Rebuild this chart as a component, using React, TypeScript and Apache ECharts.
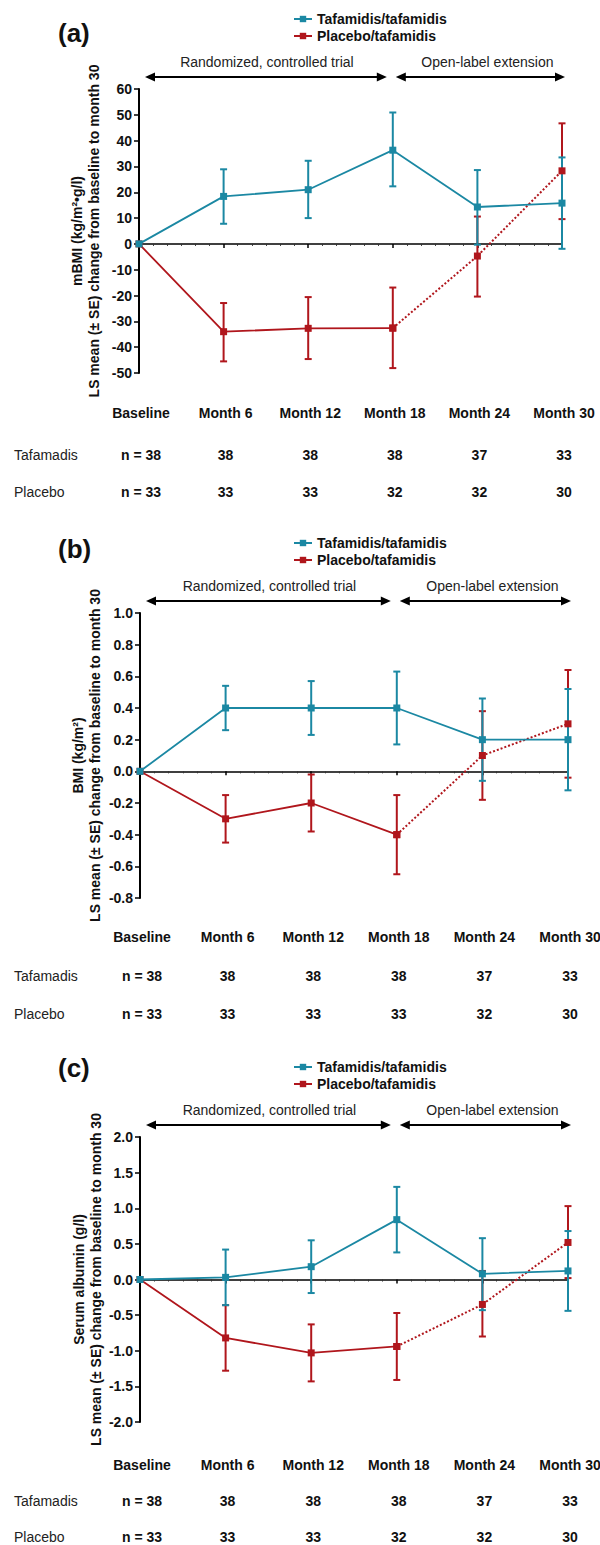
import React, { useEffect, useRef } from "react";
import * as echarts from "echarts";

// ---------- data ----------
const months = [0, 6, 12, 18, 24, 30];
const categories = ["Baseline", "Month 6", "Month 12", "Month 18", "Month 24", "Month 30"];
const TAF = "Tafamidis/tafamidis";
const PLA = "Placebo/tafamidis";
const panelTags = ["(a)", "(b)", "(c)"];
const periodLabels = ["Randomized, controlled trial", "Open-label extension"];
const rowLabels = ["Tafamadis", "Placebo"];

// (a) mBMI
const mbmiTafMean = [0, 18.4, 21.0, 36.3, 14.3, 15.8];
const mbmiTafLow = [0, 7.8, 10.0, 22.3, -0.3, -1.9];
const mbmiTafHigh = [0, 28.9, 32.2, 50.9, 28.6, 33.5];
const mbmiPlaMean = [0, -34.0, -32.7, -32.6, -4.7, 28.3];
const mbmiPlaLow = [0, -45.5, -44.6, -48.1, -20.4, 9.6];
const mbmiPlaHigh = [0, -22.9, -20.6, -16.9, 10.6, 46.7];
const mbmiNTaf = [38, 38, 38, 38, 37, 33];
const mbmiNPla = [33, 33, 33, 32, 32, 30];

// (b) BMI
const bmiTafMean = [0, 0.4, 0.4, 0.4, 0.2, 0.2];
const bmiTafLow = [0, 0.26, 0.23, 0.17, -0.06, -0.12];
const bmiTafHigh = [0, 0.54, 0.57, 0.63, 0.46, 0.52];
const bmiPlaMean = [0, -0.3, -0.2, -0.4, 0.1, 0.3];
const bmiPlaLow = [0, -0.45, -0.38, -0.65, -0.18, -0.04];
const bmiPlaHigh = [0, -0.15, -0.02, -0.15, 0.38, 0.64];
const bmiNTaf = [38, 38, 38, 38, 37, 33];
const bmiNPla = [33, 33, 33, 33, 32, 30];

// (c) Serum albumin
const albTafMean = [0, 0.03, 0.18, 0.84, 0.08, 0.12];
const albTafLow = [0, -0.36, -0.19, 0.38, -0.43, -0.44];
const albTafHigh = [0, 0.42, 0.55, 1.3, 0.58, 0.68];
const albPlaMean = [0, -0.82, -1.03, -0.94, -0.35, 0.52];
const albPlaLow = [0, -1.28, -1.43, -1.41, -0.8, 0.02];
const albPlaHigh = [0, -0.36, -0.63, -0.47, 0.12, 1.03];
const albNTaf = [38, 38, 38, 38, 37, 33];
const albNPla = [33, 33, 33, 32, 32, 30];

const yTitles = [
  "mBMI (kg/m²•g/l)\nLS mean (± SE) change from baseline to month 30",
  "BMI (kg/m²)\nLS mean (± SE) change from baseline to month 30",
  "Serum albumin (g/l)\nLS mean (± SE) change from baseline to month 30",
];
const yMin = [-50, -0.8, -2];
const yMax = [60, 1.0, 2];
const yInterval = [10, 0.2, 0.5];
const yDecimals = [0, 1, 1];

// ---------- styling / layout ----------
const TEAL = "#1b88a3";
const RED = "#b0161c";
const FONT = "'Liberation Sans', Arial, sans-serif";

const layout = [
  { left: 139, top: 89, width: 423, height: 284, tagY: 33, headerY: 413, rowY: [455, 492], titleX: 85 },
  { left: 140, top: 613, width: 428, height: 285, tagY: 549, headerY: 937, rowY: [976, 1014], titleX: 86 },
  { left: 140, top: 1137, width: 428, height: 285, tagY: 1068, headerY: 1465, rowY: [1501, 1537], titleX: 87 },
];

const panels = [
  { tm: mbmiTafMean, tl: mbmiTafLow, th: mbmiTafHigh, pm: mbmiPlaMean, pl: mbmiPlaLow, ph: mbmiPlaHigh, nt: mbmiNTaf, np: mbmiNPla },
  { tm: bmiTafMean, tl: bmiTafLow, th: bmiTafHigh, pm: bmiPlaMean, pl: bmiPlaLow, ph: bmiPlaHigh, nt: bmiNTaf, np: bmiNPla },
  { tm: albTafMean, tl: albTafLow, th: albTafHigh, pm: albPlaMean, pl: albPlaLow, ph: albPlaHigh, nt: albNTaf, np: albNPla },
];

function errRender(color: string) {
  return (params: any, api: any) => {
    const x = api.value(0);
    const lo = api.coord([x, api.value(1)]);
    const hi = api.coord([x, api.value(2)]);
    const hw = 3.5;
    const style = { stroke: color, lineWidth: 2 };
    return {
      type: "group",
      children: [
        { type: "line", shape: { x1: lo[0], y1: lo[1], x2: hi[0], y2: hi[1] }, style },
        { type: "line", shape: { x1: lo[0] - hw, y1: lo[1], x2: lo[0] + hw, y2: lo[1] }, style },
        { type: "line", shape: { x1: hi[0] - hw, y1: hi[1], x2: hi[0] + hw, y2: hi[1] }, style },
      ],
    };
  };
}

function txt(text: string, x: number, y: number, opts: any = {}) {
  return {
    type: "text",
    x,
    y,
    z: 10,
    style: {
      text,
      fontFamily: FONT,
      fontSize: 14,
      fontWeight: "bold",
      fill: "#111",
      align: "center",
      verticalAlign: "middle",
      ...opts,
    },
  };
}

function arrow(x1: number, x2: number, y: number) {
  const head = 10;
  const hh = 4.5;
  return [
    { type: "line", shape: { x1: x1 + 4, y1: y, x2: x2 - 4, y2: y }, style: { stroke: "#000", lineWidth: 2 } },
    { type: "polygon", shape: { points: [[x1, y], [x1 + head, y - hh], [x1 + head, y + hh]] }, style: { fill: "#000" } },
    { type: "polygon", shape: { points: [[x2, y], [x2 - head, y - hh], [x2 - head, y + hh]] }, style: { fill: "#000" } },
  ];
}

export default function App() {
  const ref = useRef<HTMLDivElement>(null);
  useEffect(() => {
    if (!ref.current) return;
    const chart = echarts.init(ref.current, undefined, { renderer: "svg" });

    const grid: any[] = [];
    const xAxis: any[] = [];
    const yAxis: any[] = [];
    const series: any[] = [];
    const legend: any[] = [];
    const graphic: any[] = [];

    panels.forEach((p, k) => {
      const L = layout[k];
      grid.push({ left: L.left, top: L.top, width: L.width, height: L.height, containLabel: false });
      xAxis.push({
        type: "value",
        gridIndex: k,
        min: 0,
        max: 30,
        interval: 6,
        axisLine: { show: true, onZero: true, lineStyle: { color: "#000", width: 1.5 } },
        axisTick: { show: true, length: 4, lineStyle: { color: "#000", width: 1.5 } },
        minorTick: { show: true, splitNumber: 6, length: 2, lineStyle: { color: "#333", width: 1 } },
        axisLabel: { show: false },
        splitLine: { show: false },
      });
      yAxis.push({
        type: "value",
        gridIndex: k,
        min: yMin[k],
        max: yMax[k],
        interval: yInterval[k],
        axisLine: { show: true, lineStyle: { color: "#000", width: 2 } },
        axisTick: { show: true, length: 5, lineStyle: { color: "#000", width: 1.5 } },
        axisLabel: {
          margin: 7,
          color: "#111",
          fontFamily: FONT,
          fontSize: 14,
          fontWeight: "bold",
          formatter: (v: number) => v.toFixed(yDecimals[k]),
        },
        splitLine: { show: false },
      });

      const pts = (arr: number[], idx: number[]) => idx.map((i) => [months[i], arr[i]]);
      const err = (lo: number[], hi: number[]) => months.slice(1).map((m, i) => [m, lo[i + 1], hi[i + 1]]);

      series.push(
        {
          type: "custom",
          name: "err-pla-" + k,
          xAxisIndex: k,
          yAxisIndex: k,
          renderItem: errRender(RED),
          data: err(p.pl, p.ph),
          z: 2,
          silent: true,
        },
        {
          type: "custom",
          name: "err-taf-" + k,
          xAxisIndex: k,
          yAxisIndex: k,
          renderItem: errRender(TEAL),
          data: err(p.tl, p.th),
          z: 3,
          silent: true,
        },
        {
          type: "line",
          name: PLA,
          xAxisIndex: k,
          yAxisIndex: k,
          data: pts(p.pm, [0, 1, 2, 3]),
          color: RED,
          symbol: "rect",
          symbolSize: 7,
          lineStyle: { width: 1.8, color: RED },
          itemStyle: { color: RED },
          z: 4,
        },
        {
          type: "line",
          name: PLA,
          xAxisIndex: k,
          yAxisIndex: k,
          data: pts(p.pm, [3, 4, 5]),
          color: RED,
          symbol: "rect",
          symbolSize: 7,
          lineStyle: { width: 2, color: RED, type: [2, 2] },
          itemStyle: { color: RED },
          z: 4,
        },
        {
          type: "line",
          name: TAF,
          xAxisIndex: k,
          yAxisIndex: k,
          data: pts(p.tm, [0, 1, 2, 3, 4, 5]),
          color: TEAL,
          symbol: "rect",
          symbolSize: 7,
          lineStyle: { width: 1.8, color: TEAL },
          itemStyle: { color: TEAL },
          z: 5,
        }
      );

      legend.push({
        orient: "vertical",
        left: 288,
        top: L.top - 82,
        itemWidth: 18,
        itemHeight: 8,
        itemGap: 3,
        selectedMode: false,
        data: [TAF, PLA],
        textStyle: { fontFamily: FONT, fontSize: 14, fontWeight: "bold", color: "#111", lineHeight: 14 },
      });

      // panel tag
      graphic.push(txt(panelTags[k], 58, L.tagY, { fontSize: 26, align: "left" }));

      // period annotations
      const step = L.width / 5;
      const x18 = L.left + 3 * step;
      const x30 = L.left + 5 * step;
      const arrowY = L.top - 12;
      const a1 = L.left + 6;
      const a2 = x18 - 6;
      const a3 = x18 + 3;
      const a4 = x30 + 3;
      graphic.push(...arrow(a1, a2, arrowY), ...arrow(a3, a4, arrowY));
      graphic.push(txt(periodLabels[0], (a1 + a2) / 2 + 1, L.top - 27, { fontWeight: "normal", fill: "#222" }));
      graphic.push(txt(periodLabels[1], (a3 + a4) / 2 + 7, L.top - 27, { fontWeight: "normal", fill: "#222" }));

      // y title
      graphic.push({
        ...txt(yTitles[k], L.titleX, L.top + L.height / 2, { lineHeight: 17 }),
        rotation: Math.PI / 2,
      });

      // table
      categories.forEach((c, i) => {
        const cx = L.left + i * step + 2;
        graphic.push(txt(c, cx, L.headerY));
        graphic.push(txt((i === 0 ? "n = " : "") + p.nt[i], cx, L.rowY[0]));
        graphic.push(txt((i === 0 ? "n = " : "") + p.np[i], cx, L.rowY[1]));
      });
      graphic.push(txt(rowLabels[0], 14, L.rowY[0], { fontWeight: "normal", align: "left", fill: "#222" }));
      graphic.push(txt(rowLabels[1], 14, L.rowY[1], { fontWeight: "normal", align: "left", fill: "#222" }));
    });

    chart.setOption({
      animation: false,
      backgroundColor: "#fff",
      grid,
      xAxis,
      yAxis,
      series,
      legend,
      graphic,
    });
    return () => chart.dispose();
  }, []);

  return (
    <div
      ref={ref}
      style={{ position: "absolute", left: 0, top: 0, width: 600, height: 1545, background: "#fff" }}
    />
  );
}
